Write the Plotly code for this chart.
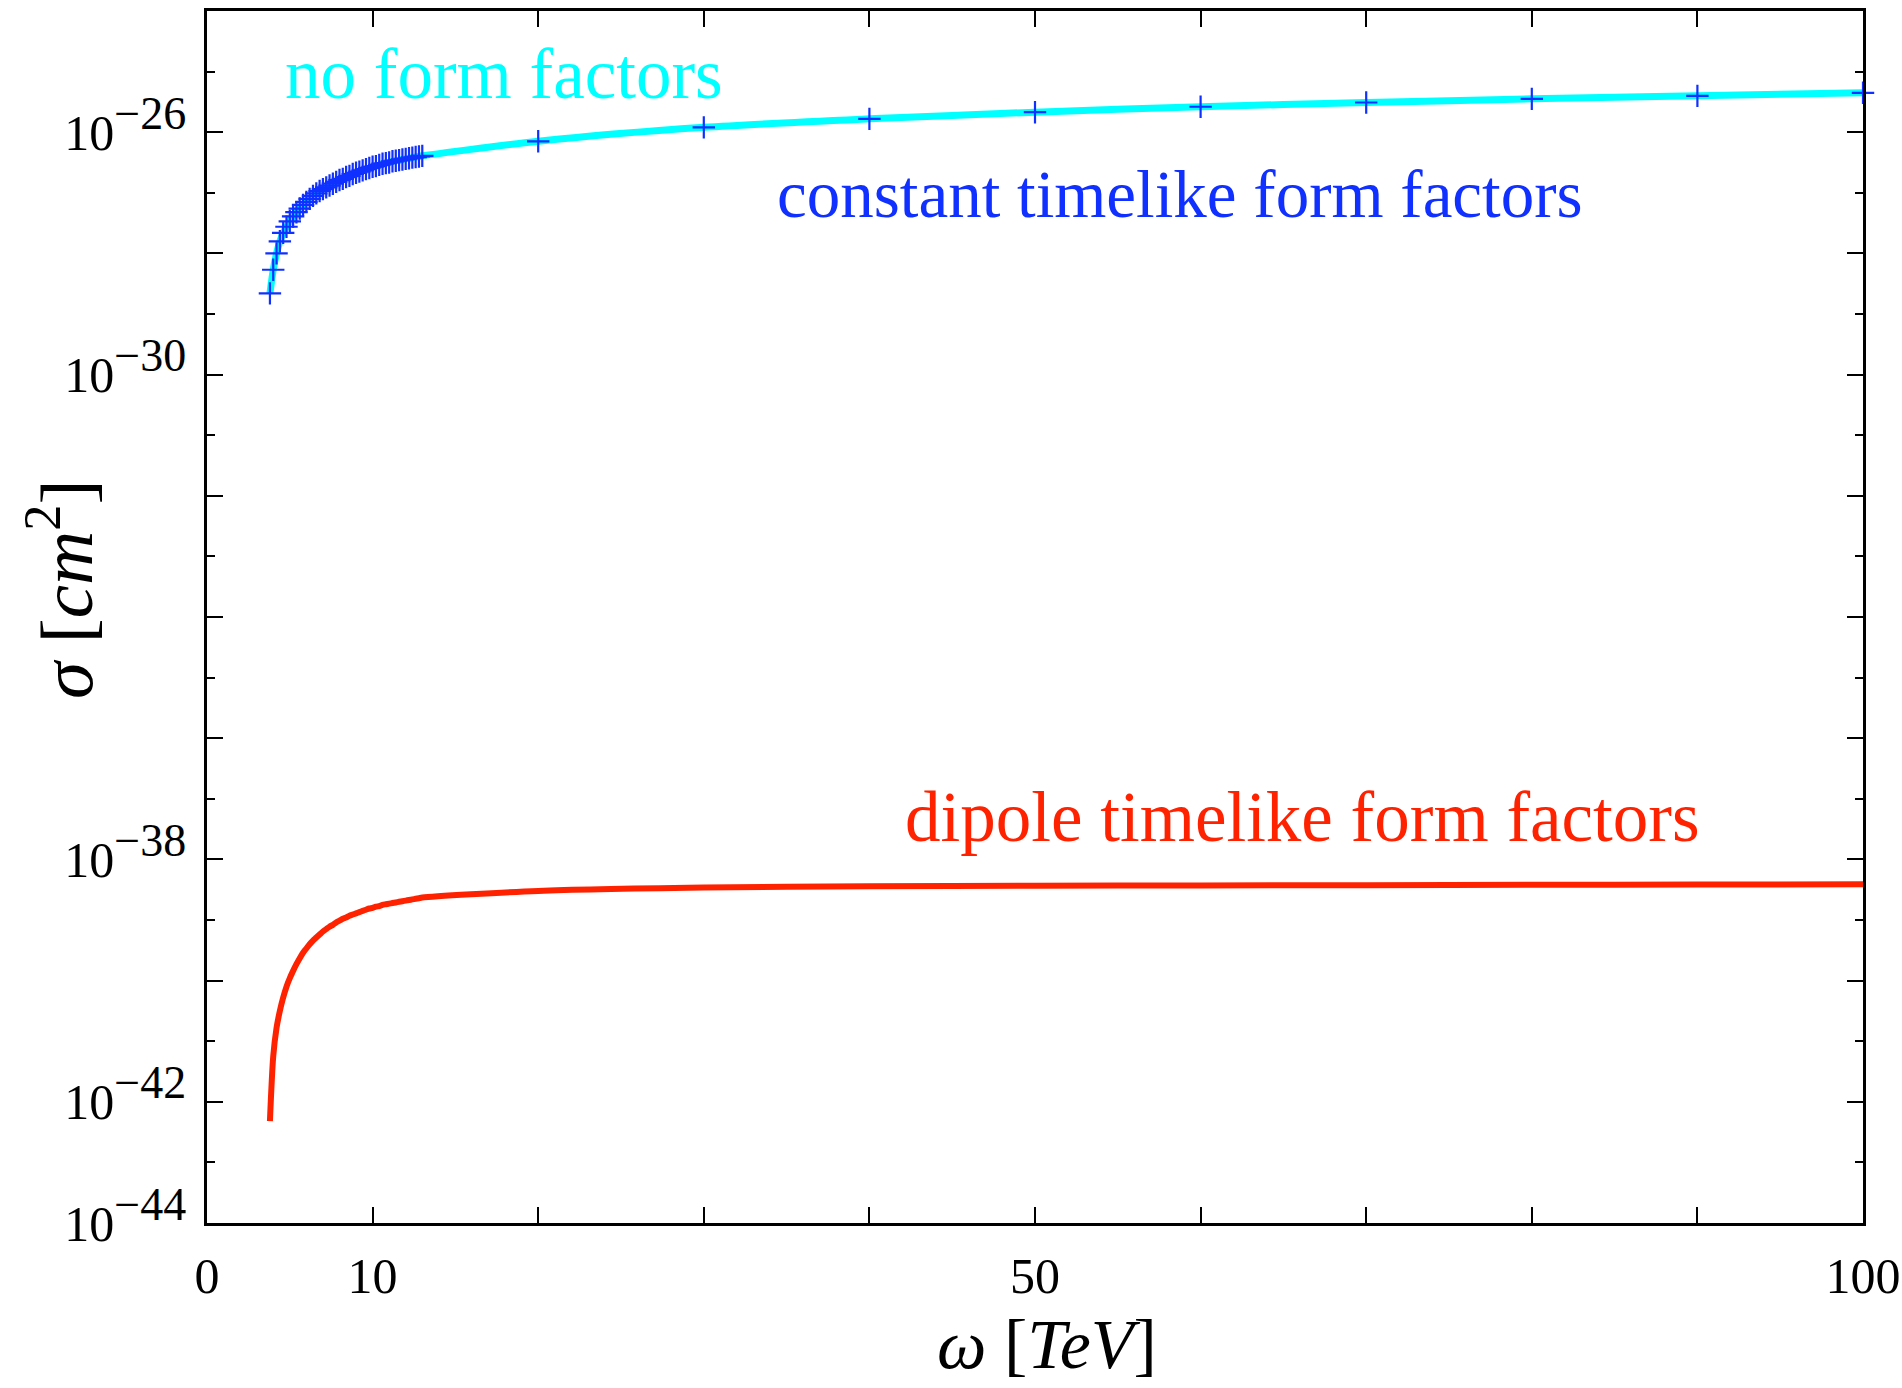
import plotly.graph_objects as go

# ---------------- data ----------------
# photon energy omega [TeV]
omega = [3.8, 4.0, 4.2, 4.4, 4.6, 4.8, 5.0, 5.2, 5.4, 5.6, 5.8, 6.0, 6.2, 6.4, 6.6,
         6.8, 7.0, 7.2, 7.4, 7.6, 7.8, 8.0, 8.2, 8.4, 8.6, 8.8, 9.0, 9.2, 9.4, 9.6,
         9.8, 10.0, 10.2, 10.4, 10.6, 10.8, 11.0, 11.2, 11.4, 11.6, 11.8, 12.0, 12.2,
         12.4, 12.6, 12.8, 13.0, 20, 30, 40, 50, 60, 70, 80, 90, 100]

# log10(sigma / cm^2) : no form factors (cyan line)
log_sigma_no_ff = [-28.66, -28.27, -28.00, -27.80, -27.66, -27.56, -27.47, -27.39,
                   -27.32, -27.26, -27.20, -27.15, -27.10, -27.05, -27.01, -26.97,
                   -26.94, -26.91, -26.88, -26.85, -26.82, -26.79, -26.77, -26.74,
                   -26.72, -26.69, -26.67, -26.65, -26.63, -26.61, -26.59, -26.57,
                   -26.56, -26.54, -26.52, -26.51, -26.50, -26.48, -26.47, -26.46,
                   -26.45, -26.44, -26.43, -26.42, -26.41, -26.40, -26.39,
                   -26.15, -25.92, -25.78, -25.67, -25.58, -25.51, -25.45, -25.40, -25.35]

# log10(sigma / cm^2) : constant timelike form factors (blue crosses)
log_sigma_const_ff = [-28.66, -28.27, -28.00, -27.80, -27.66, -27.56, -27.47, -27.39,
                      -27.32, -27.26, -27.20, -27.15, -27.10, -27.05, -27.01, -26.97,
                      -26.94, -26.91, -26.88, -26.85, -26.82, -26.79, -26.77, -26.74,
                      -26.72, -26.69, -26.67, -26.65, -26.63, -26.61, -26.59, -26.57,
                      -26.56, -26.54, -26.52, -26.51, -26.50, -26.48, -26.47, -26.46,
                      -26.45, -26.44, -26.43, -26.42, -26.41, -26.40, -26.39,
                      -26.15, -25.92, -25.78, -25.67, -25.58, -25.51, -25.45, -25.40, -25.35]

# log10(sigma / cm^2) : dipole timelike form factors (red line)
log_sigma_dipole_ff = [-42.32, -41.25, -40.78, -40.50, -40.28, -40.10, -39.96, -39.84,
                       -39.73, -39.63, -39.54, -39.47, -39.40, -39.34, -39.29, -39.24,
                       -39.19, -39.15, -39.11, -39.08, -39.04, -39.01, -38.98, -38.96,
                       -38.93, -38.91, -38.89, -38.87, -38.85, -38.83, -38.81, -38.80,
                       -38.78, -38.77, -38.75, -38.74, -38.73, -38.72, -38.71, -38.70,
                       -38.69, -38.68, -38.67, -38.66, -38.65, -38.64, -38.63,
                       -38.52, -38.465, -38.445, -38.435, -38.43, -38.425, -38.42, -38.415, -38.41]

x_tick_values = [0, 10, 20, 30, 40, 50, 60, 70, 80, 90, 100]
x_tick_labels = ["0", "10", "", "", "", "50", "", "", "", "", "100"]

y_major_exponents = [-44, -42, -40, -38, -36, -34, -32, -30, -28, -26, -24]
y_labeled_exponents = [-44, -42, -38, -30, -26]
y_minor_exponents = [-43, -41, -39, -37, -35, -33, -31, -29, -27, -25]

# ---------------- figure ----------------
sig_no = [10 ** v for v in log_sigma_no_ff]
sig_const = [10 ** v for v in log_sigma_const_ff]
sig_dip = [10 ** v for v in log_sigma_dipole_ff]

FONT = "Liberation Serif"
CYAN = "#00FFFF"
BLUE = "#1030FF"
RED = "#FF2200"


def pow_label(e):
    if e not in y_labeled_exponents:
        return ""
    return "10<sup><span style=\"font-size:46px\">\u2212%d</span></sup>" % (-e)


fig = go.Figure()
fig.add_trace(go.Scatter(x=omega, y=sig_no, mode="lines",
                         line=dict(color=CYAN, width=7, shape="spline", smoothing=0.8),
                         cliponaxis=False, name="no form factors"))
fig.add_trace(go.Scatter(x=omega, y=sig_const, mode="markers",
                         marker=dict(symbol="cross-thin", size=16,
                                     line=dict(color=BLUE, width=2.2)),
                         cliponaxis=False, name="constant timelike form factors"))
fig.add_trace(go.Scatter(x=omega, y=sig_dip, mode="lines",
                         line=dict(color=RED, width=6, shape="spline", smoothing=0.8),
                         cliponaxis=False, name="dipole timelike form factors"))

fig.update_layout(
    width=1902, height=1388,
    margin=dict(l=207, r=39, t=11, b=165, autoexpand=False),
    paper_bgcolor="white", plot_bgcolor="white",
    showlegend=False,
    font=dict(family=FONT, color="black", size=50),
)

fig.update_xaxes(
    range=[0, 100], showgrid=False, zeroline=False, automargin=False,
    showline=True, linewidth=2.5, linecolor="black", mirror="ticks",
    ticks="inside", ticklen=16, tickwidth=2, tickcolor="black",
    tickmode="array", tickvals=x_tick_values, ticktext=x_tick_labels,
    tickfont=dict(family=FONT, size=50, color="black"),
    ticklabelstandoff=7,
)
fig.update_yaxes(
    type="log", range=[-44, -24], showgrid=False, zeroline=False, automargin=False,
    showline=True, linewidth=2.5, linecolor="black", mirror="ticks",
    ticks="inside", ticklen=16, tickwidth=2, tickcolor="black",
    tickmode="array", tickvals=[10.0 ** e for e in y_major_exponents],
    ticktext=[pow_label(e) for e in y_major_exponents],
    tickfont=dict(family=FONT, size=50, color="black"),
    ticklabelstandoff=8,
    minor=dict(tickmode="array", tickvals=[10.0 ** e for e in y_minor_exponents],
               ticks="inside", ticklen=8, tickwidth=2, tickcolor="black",
               showgrid=False),
)

# series labels
fig.add_annotation(text="no form factors", x=4.6, y=-25.04, xref="x", yref="y",
                   xanchor="left", yanchor="middle", showarrow=False,
                   font=dict(family=FONT, size=71, color=CYAN))
fig.add_annotation(text="constant timelike form factors", x=34.3, y=-27.02,
                   xref="x", yref="y", xanchor="left", yanchor="middle",
                   showarrow=False, font=dict(family=FONT, size=67, color=BLUE))
fig.add_annotation(text="dipole timelike form factors", x=42.0, y=-37.3,
                   xref="x", yref="y", xanchor="left", yanchor="middle",
                   showarrow=False, font=dict(family=FONT, size=71, color=RED))

# axis titles, placed in pixel coordinates converted to paper fractions
plot_l, plot_r, plot_t, plot_b = 207, 1902 - 39, 11, 1388 - 165


def px_to_paper(px, py):
    return (px - plot_l) / (plot_r - plot_l), (plot_b - py) / (plot_b - plot_t)


ax_x, ax_y = px_to_paper(1047, 1344)
fig.add_annotation(text="<i>\u03c9</i> [<i>TeV</i>]", x=ax_x, y=ax_y,
                   xref="paper", yref="paper", xanchor="center", yanchor="middle",
                   showarrow=False, font=dict(family=FONT, size=70, color="black"))
ay_x, ay_y = px_to_paper(60, 590)
fig.add_annotation(text="<i>\u03c3</i> [<i>cm</i><sup>2</sup>]", x=ay_x, y=ay_y,
                   xref="paper", yref="paper", xanchor="center", yanchor="middle",
                   showarrow=False, textangle=-90,
                   font=dict(family=FONT, size=75, color="black"))

fig.write_html("out.html")
